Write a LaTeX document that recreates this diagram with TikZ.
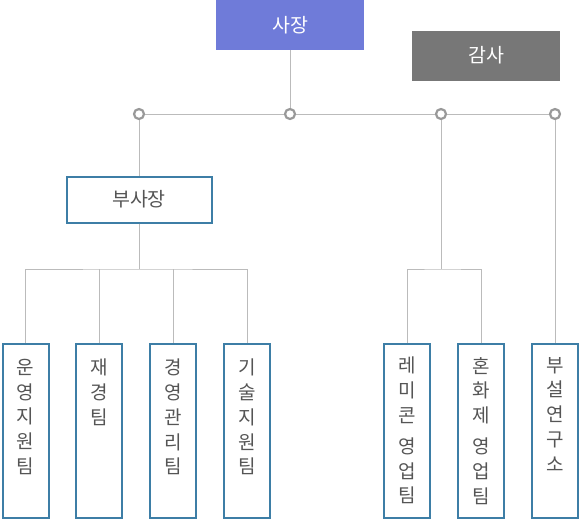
\documentclass[tikz,border=0pt]{standalone}
\usepackage{fontspec}
\setmainfont{Noto Sans CJK KR}
\definecolor{bossblue}{HTML}{6F7BD9}
\definecolor{auditgray}{HTML}{777777}
\definecolor{boxblue}{HTML}{3D7EA6}
\definecolor{linegray}{HTML}{BBBBBB}
\definecolor{dotgray}{HTML}{999999}
\definecolor{txtgray}{HTML}{555555}
\begin{document}
\begin{tikzpicture}[x=1pt,y=-1pt,
  topbox/.style={minimum width=148pt,minimum height=50pt,inner sep=0pt,text=white,font=\fontsize{19.5}{19.5}\selectfont},
  midbox/.style={draw=boxblue,line width=2pt,fill=white,minimum width=145pt,minimum height=46pt,inner sep=0pt,text=txtgray,font=\fontsize{19.5}{19.5}\selectfont},
  teambox/.style={draw=boxblue,line width=2pt,fill=white,minimum width=46pt,minimum height=174pt,inner sep=0pt},
  vtext/.style={anchor=north,align=center,inner sep=0pt,text=txtgray,font=\fontsize{19}{24.7}\selectfont},
  conn/.style={draw=linegray,line width=1pt},
  dot/.style={circle,draw=dotgray,line width=2.2pt,fill=white,minimum size=10pt,inner sep=0pt}
]
\useasboundingbox (0,0) rectangle (580,520);
% top boxes
\node[topbox,fill=bossblue] (ceo) at (290,25) {사장};
\node[topbox,fill=auditgray] (audit) at (486,55.5) {감사};
% dots
\coordinate (d1) at (139,114);
\coordinate (d2) at (290,114);
\coordinate (d3) at (441,114);
\coordinate (d4) at (555,114);
\draw[conn] (ceo.south) -- (d2);
\draw[conn] (d1) -- (d4);
% vice president
\node[midbox] (vp) at (139,199.5) {부사장};
\draw[conn] (d1) -- (vp.north);
% teams
\node[teambox] (t1) at (25.5,430.5) {};
\node[teambox] (t2) at (99,430.5) {};
\node[teambox] (t3) at (173,430.5) {};
\node[teambox] (t4) at (247,430.5) {};
\node[teambox] (t5) at (407,430.5) {};
\node[teambox] (t6) at (481,430.5) {};
\node[teambox] (t7) at (555,430.5) {};
\coordinate (b1) at (139,269);
\coordinate (b2) at (441,269);
\draw[conn] (vp.south) -- (b1);
\draw[conn] (t1.north) |- (b1) -| (t4.north);
\draw[conn] (t2.north) -- (t2.north |- b1);
\draw[conn] (t3.north) -- (t3.north |- b1);
\draw[conn] (d3) -- (b2);
\draw[conn] (t5.north) |- (b2) -| (t6.north);
\draw[conn] (d4) -- (t7.north);
% dots on top
\foreach \d in {d1,d2,d3,d4} \node[dot] at (\d) {};
% texts
\node[vtext] (l1) at (25.5,359) {운\\영\\지\\원\\팀};
\node[vtext] (l2) at (99,359) {재\\경\\팀};
\node[vtext] (l3) at (173,359) {경\\영\\관\\리\\팀};
\node[vtext] (l4) at (247,359) {기\\술\\지\\원\\팀};
\node[vtext] (l5) at (407,357) {레\\미\\콘\\[6.5pt]영\\업\\팀};
\node[vtext] (l6) at (481,357) {혼\\화\\제\\[6.5pt]영\\업\\팀};
\node[vtext] (l7) at (555,357) {부\\설\\연\\구\\소};
\end{tikzpicture}
\end{document}
